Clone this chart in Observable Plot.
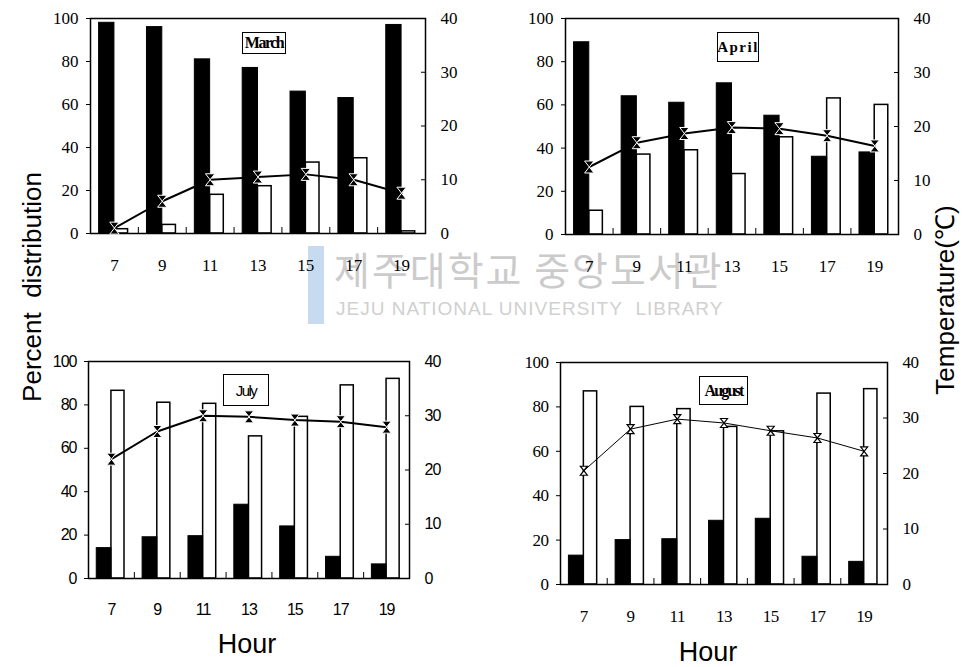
<!DOCTYPE html>
<html>
<head>
<meta charset="utf-8">
<script src="https://cdn.jsdelivr.net/npm/d3@7"></script>
<script src="https://cdn.jsdelivr.net/npm/@observablehq/plot@0.6"></script>
<style>
  body { margin: 0; background: #fff; }
  #wrap { position: relative; width: 967px; height: 667px; overflow: hidden; background: #fff; font-family: "Liberation Sans", Arial, sans-serif; }
  .panel { position: absolute; z-index: 2; }
  .month { position: absolute; z-index: 3; border: 1.5px solid #000; background: #fff; box-sizing: border-box; display: flex; align-items: center; justify-content: center; color: #000; }
  .rot { position: absolute; z-index: 3; white-space: nowrap; transform: translate(-50%, -50%) rotate(-90deg); font-family: "Liberation Sans", Arial, sans-serif; font-size: 26px; color: #000; }
  .hour { position: absolute; z-index: 3; transform: translate(-50%, 0); font-family: "Liberation Sans", Arial, sans-serif; font-size: 27px; color: #000; }
  .wm { position: absolute; z-index: 1; white-space: nowrap; line-height: 1; }
</style>
</head>
<body>
<div id="wrap"></div>
<script>
// ---- data ----
const hours = [7, 9, 11, 13, 15, 17, 19];
const percentTicks = [0, 20, 40, 60, 80, 100];
const tempTicks = [0, 10, 20, 30, 40];
const bandEdges = [8, 10, 12, 14, 16, 18];

const marchBlack = [98, 96, 81, 77, 66, 63, 97];
const marchWhite = [2, 4, 18, 22, 33, 35, 1];
const marchTemp  = [1, 6, 10, 10.5, 11, 10, 7.5];

const aprilBlack = [89, 64, 61, 70, 55, 36, 38];
const aprilWhite = [11, 37, 39, 28, 45, 63, 60];
const aprilTemp  = [12.5, 17, 18.7, 19.8, 19.6, 18.3, 16.4];

const julyBlack = [14, 19, 19.5, 34, 24, 10, 6.5];
const julyWhite = [86.5, 81, 80.5, 65.5, 74.5, 89, 92];
const julyTemp  = [22, 27.1, 30, 29.8, 29.2, 28.9, 27.9];

const augustBlack = [13, 20, 20.4, 28.7, 29.6, 12.5, 10.2];
const augustWhite = [87, 80, 79, 71, 69, 86, 88];
const augustTemp  = [20.5, 28, 29.8, 29.1, 27.7, 26.4, 24];

const months = ["March", "April", "July", "August"];

// ---- layout (styles) ----
const panels = [
  {month: months[0], black: marchBlack, white: marchWhite, temp: marchTemp, left: 90, top: 18, w: 335, h: 215,
   font: "Liberation Serif", fs: 17, ls: "0px", line: 2, thin: false,
   box: {x: 242, y: 32, w: 44, h: 22, font: "Liberation Serif", fs: 16, weight: "bold", ls: "-1.5px"}},
  {month: months[1], black: aprilBlack, white: aprilWhite, temp: aprilTemp, left: 565, top: 18, w: 333, h: 216,
   font: "Liberation Serif", fs: 17, ls: "0px", line: 2, thin: false,
   box: {x: 717, y: 32, w: 42, h: 30, font: "Liberation Serif", fs: 15, weight: "bold", ls: "1.5px"}},
  {month: months[2], black: julyBlack, white: julyWhite, temp: julyTemp, left: 88, top: 361, w: 321, h: 217,
   font: "Liberation Sans", fs: 16, ls: "-1px", line: 2, thin: false,
   box: {x: 223, y: 374, w: 46, h: 32, font: "Liberation Sans", fs: 15, weight: "normal", ls: "-1.5px"}},
  {month: months[3], black: augustBlack, white: augustWhite, temp: augustTemp, left: 560, top: 362, w: 327, h: 222,
   font: "Liberation Serif", fs: 17, ls: "-0.5px", line: 1, thin: true,
   box: {x: 699, y: 376, w: 49, h: 29, font: "Liberation Serif", fs: 16, weight: "bold", ls: "-1.8px"}}
];

const hourglass = {
  draw(ctx, size) {
    const r = Math.sqrt(size / Math.PI);
    const w = r * 0.78;
    ctx.moveTo(-w, -r); ctx.lineTo(w, -r); ctx.lineTo(-w, r); ctx.lineTo(w, r); ctx.closePath();
  }
};

const wrap = document.getElementById("wrap");
const mL = 50, mR = 50, mT = 10, mB = 50;

for (const p of panels) {
  const rows = hours.map((h, i) => ({hour: h, black: p.black[i], white: p.white[i], temp: p.temp[i]}));
  const txt = {fontFamily: p.font, fontSize: p.fs, fill: "black"};
  const chart = Plot.plot({
    width: p.w + mL + mR,
    height: p.h + mT + mB,
    marginLeft: mL, marginRight: mR, marginTop: mT, marginBottom: mB,
    style: {background: "transparent", overflow: "visible", letterSpacing: p.ls},
    x: {type: "linear", domain: [6, 20]},
    y: {domain: [0, 100]},
    marks: [
      Plot.rect(rows, {x1: d => d.hour, x2: d => d.hour + 0.57, y1: 0, y2: "white", fill: "white", stroke: "black", strokeWidth: 1.5}),
      Plot.rect(rows, {x1: d => d.hour - 0.64, x2: d => d.hour, y1: 0, y2: "black", fill: "black", stroke: "black", strokeWidth: 1}),
      Plot.frame({stroke: "black", strokeWidth: 1.5}),
      Plot.line(rows, {x: "hour", y: d => d.temp * 2.5, stroke: "black", strokeWidth: p.line}),
      Plot.dot(rows, p.thin
        ? {x: "hour", y: d => d.temp * 2.5, symbol: hourglass, r: 4.5, fill: "white", stroke: "black", strokeWidth: 1.2}
        : {x: "hour", y: d => d.temp * 2.5, symbol: hourglass, r: 6, fill: "black", stroke: "white", strokeWidth: 1}),
      Plot.axisY(percentTicks, {anchor: "left", tickSize: 4, tickPadding: 8, tickFormat: d => String(d), label: null, ...txt}),
      Plot.axisY(tempTicks, {anchor: "right", y: d => d * 2.5, tickSize: -5, tickPadding: 20, tickFormat: d => String(d), label: null, ...txt}),
      Plot.axisX(hours, {anchor: "bottom", tickSize: 0, tickPadding: 25, tickFormat: d => String(d), label: null, ...txt}),
      Plot.axisX(bandEdges, {anchor: "bottom", tickSize: -6, tickFormat: () => "", label: null})
    ]
  });
  chart.classList.add("panel");
  chart.style.left = (p.left - mL) + "px";
  chart.style.top = (p.top - mT) + "px";
  wrap.appendChild(chart);

  const b = document.createElement("div");
  b.className = "month";
  Object.assign(b.style, {left: p.box.x + "px", top: p.box.y + "px", width: p.box.w + "px", height: p.box.h + "px",
    fontFamily: p.box.font, fontSize: p.box.fs + "px", fontWeight: p.box.weight, letterSpacing: p.box.ls});
  b.textContent = p.month;
  wrap.appendChild(b);
}

function addDiv(cls, text, style) {
  const d = document.createElement("div");
  d.className = cls;
  d.textContent = text;
  Object.assign(d.style, style);
  wrap.appendChild(d);
  return d;
}

addDiv("rot", "Percent\u00a0 distribution", {left: "32px", top: "287px"});
addDiv("rot", "Temperature(\u2103)", {left: "944px", top: "300px"});
addDiv("hour", "Hour", {left: "247px", top: "629px"});
addDiv("hour", "Hour", {left: "708px", top: "637px"});

// watermark
addDiv("wm", "", {left: "308px", top: "246px", width: "16px", height: "78px", background: "#c6dbef"});
addDiv("wm", "제주대학교 중앙도서관", {left: "334px", top: "249px", fontFamily: "'Noto Sans CJK KR'", fontSize: "39px", color: "#cbcbcb", letterSpacing: "2px"});
addDiv("wm", "JEJU NATIONAL UNIVERSITY\u00a0 LIBRARY", {left: "336px", top: "299px", fontFamily: "'Liberation Sans', Arial", fontSize: "19px", color: "#d0d0d0", letterSpacing: "1px"});
</script>
</body>
</html>
